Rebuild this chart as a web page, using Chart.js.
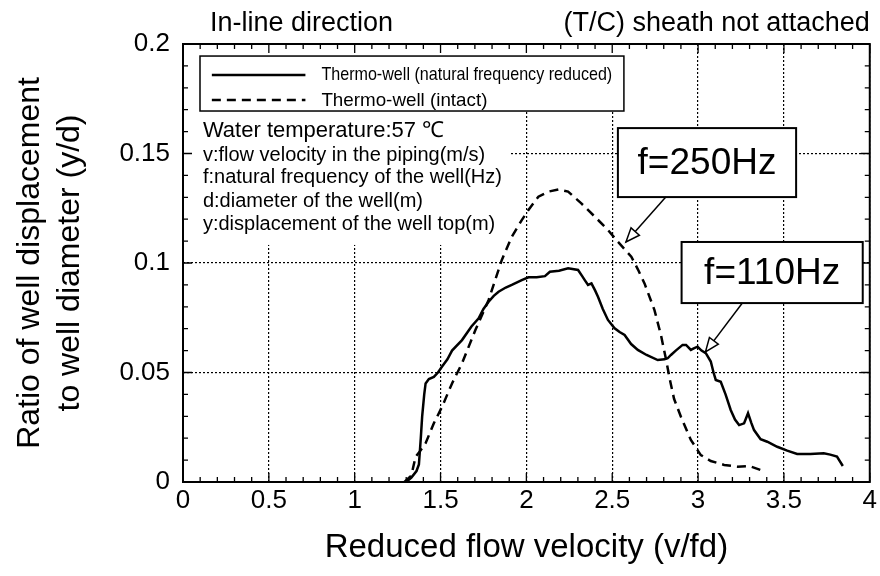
<!DOCTYPE html>
<html><head><meta charset="utf-8">
<script src="https://cdn.jsdelivr.net/npm/chart.js@4/dist/chart.umd.min.js"></script>
<style>html,body{margin:0;padding:0;background:#fff}</style>
</head><body>
<canvas id="c" width="880" height="576"></canvas>
<script>
// ---- data ----
const reducedX = [1.30,1.33,1.36,1.374,1.385,1.393,1.405,1.413,1.432,1.461,1.485,1.509,1.54,1.567,1.625,1.68,1.722,1.75,1.78,1.81,1.838,1.88,1.915,1.973,2.012,2.06,2.108,2.137,2.19,2.243,2.301,2.325,2.34,2.359,2.379,2.40,2.417,2.445,2.475,2.514,2.543,2.572,2.61,2.649,2.70,2.765,2.804,2.823,2.842,2.87,2.91,2.93,2.958,2.975,2.997,3.02,3.045,3.074,3.09,3.103,3.132,3.16,3.19,3.215,3.239,3.268,3.291,3.31,3.326,3.364,3.403,3.461,3.519,3.577,3.654,3.732,3.77,3.809,3.843];
const reducedY = [0.000,0.002,0.005,0.008,0.020,0.030,0.040,0.045,0.047,0.048,0.050,0.0527,0.056,0.060,0.0648,0.071,0.0747,0.079,0.0823,0.085,0.0869,0.0888,0.090,0.0922,0.0935,0.0935,0.094,0.096,0.0965,0.0976,0.0968,0.094,0.0922,0.090,0.0907,0.0875,0.0846,0.079,0.074,0.0702,0.0685,0.0671,0.063,0.0603,0.058,0.0557,0.056,0.0565,0.058,0.060,0.0626,0.0626,0.0603,0.061,0.0618,0.060,0.0588,0.055,0.050,0.0466,0.0458,0.040,0.0329,0.0285,0.026,0.0268,0.0314,0.027,0.0237,0.0195,0.0184,0.0161,0.0143,0.0128,0.0128,0.0131,0.0125,0.0116,0.0073];
const intactX = [1.29,1.33,1.355,1.38,1.413,1.461,1.509,1.567,1.625,1.703,1.78,1.857,1.915,1.973,2.012,2.07,2.128,2.186,2.243,2.32,2.398,2.475,2.533,2.611,2.65,2.688,2.746,2.784,2.814,2.835,2.86,2.90,2.958,3.016,3.074,3.152,3.229,3.297,3.364];
const intactY = [0.000,0.003,0.0116,0.014,0.0177,0.0268,0.0344,0.045,0.0542,0.0694,0.0831,0.1014,0.112,0.1196,0.1242,0.1303,0.1326,0.1336,0.1326,0.1272,0.1212,0.1151,0.1097,0.1029,0.097,0.0907,0.0785,0.067,0.0557,0.047,0.038,0.0298,0.0192,0.0123,0.0096,0.0078,0.007,0.0073,0.0055];
const seriesNames = ['Thermo-well (natural frequency reduced)','Thermo-well (intact)'];
const xTickValues = [0,0.5,1,1.5,2,2.5,3,3.5,4];
const xTickLabels = ['0','0.5','1','1.5','2','2.5','3','3.5','4'];
const yTickValues = [0,0.05,0.1,0.15,0.2];
const yTickLabels = ['0','0.05','0.1','0.15','0.2'];
const xTitle = 'Reduced flow velocity (v/fd)';
const yTitle = ['Ratio of well displacement','to well diameter (y/d)'];
const titleLeft = 'In-line direction';
const titleRight = '(T/C) sheath not attached';
const noteLines = ['Water temperature:57 \u2103','v:flow velocity in the piping(m/s)','f:natural frequency of the well(Hz)','d:diameter of the well(m)','y:displacement of the well top(m)'];
const labelA = 'f=250Hz';
const labelB = 'f=110Hz';

const FONT = '"Liberation Sans", Arial, Helvetica, sans-serif';
const toPts = (xs, ys) => xs.map((x, i) => ({x, y: ys[i]}));

function arrow(ctx, x1, y1, x2, y2) {
  ctx.beginPath(); ctx.moveTo(x1, y1); ctx.lineTo(x2, y2); ctx.stroke();
  const a = Math.atan2(y2 - y1, x2 - x1), L = 15, w = 0.38;
  ctx.beginPath();
  ctx.moveTo(x2, y2);
  ctx.lineTo(x2 - L * Math.cos(a - w), y2 - L * Math.sin(a - w));
  ctx.lineTo(x2 - L * Math.cos(a + w), y2 - L * Math.sin(a + w));
  ctx.closePath();
  ctx.fillStyle = '#fff'; ctx.fill(); ctx.stroke();
}

const decor = {
  id: 'decor',
  beforeDatasetsDraw(chart) {
    const {ctx, chartArea: ca} = chart;
    const X = v => chart.scales.x.getPixelForValue(v), Y = v => chart.scales.y.getPixelForValue(v);
    ctx.save();
    ctx.fillStyle = '#fff';
    // regions where the grid is hidden behind the legend and the notes
    ctx.fillRect(ca.left + 1, ca.top + 1, X(2.568) - ca.left, Y(0.1694) - ca.top);
    ctx.fillRect(ca.left + 1, ca.top + 1, X(1.955) - ca.left, Y(0.1518) - ca.top);
    ctx.fillRect(ca.left + 1, ca.top + 1, X(1.90) - ca.left, Y(0.1087) - ca.top);
    ctx.restore();
  },
  afterDraw(chart) {
    const {ctx, chartArea: ca} = chart;
    const X = v => chart.scales.x.getPixelForValue(v), Y = v => chart.scales.y.getPixelForValue(v);
    ctx.save();
    ctx.strokeStyle = '#000'; ctx.fillStyle = '#000';
    // frame
    ctx.lineWidth = 2;
    ctx.strokeRect(ca.left, ca.top, ca.right - ca.left, ca.bottom - ca.top);
    // inward ticks on all sides
    ctx.lineWidth = 1.3;
    ctx.beginPath();
    for (let i = 0; i <= 40; i++) {
      const px = X(i / 10), L = i % 5 === 0 ? 9 : 5;
      ctx.moveTo(px, ca.bottom); ctx.lineTo(px, ca.bottom - L);
      ctx.moveTo(px, ca.top); ctx.lineTo(px, ca.top + L);
    }
    for (let i = 0; i <= 20; i++) {
      const py = Y(i / 100), L = i % 5 === 0 ? 9 : 5;
      ctx.moveTo(ca.left, py); ctx.lineTo(ca.left + L, py);
      ctx.moveTo(ca.right, py); ctx.lineTo(ca.right - L, py);
    }
    ctx.stroke();
    // titles above the frame
    ctx.font = '27px ' + FONT; ctx.textBaseline = 'alphabetic';
    ctx.textAlign = 'left'; ctx.fillText(titleLeft, 210, 31);
    ctx.textAlign = 'right'; ctx.fillText(titleRight, ca.right, 31);
    // legend box
    const lx1 = X(0.099), ly1 = Y(0.1945), lx2 = X(2.568), ly2 = Y(0.1694);
    ctx.lineWidth = 1.5;
    ctx.strokeRect(lx1, ly1, lx2 - lx1, ly2 - ly1);
    const s1 = Y(0.1858), s2 = Y(0.1744);
    ctx.lineWidth = 2.5;
    ctx.beginPath(); ctx.moveTo(X(0.168), s1); ctx.lineTo(X(0.713), s1); ctx.stroke();
    ctx.setLineDash([9, 6]);
    ctx.beginPath(); ctx.moveTo(X(0.168), s2); ctx.lineTo(X(0.713), s2); ctx.stroke();
    ctx.setLineDash([]);
    ctx.font = '19px ' + FONT; ctx.textAlign = 'left'; ctx.textBaseline = 'middle';
    ctx.fillText(seriesNames[0], X(0.806), s1, X(2.50) - X(0.806));
    ctx.fillText(seriesNames[1], X(0.806), s2 + 1, 166);
    // notes
    ctx.textBaseline = 'alphabetic';
    ctx.font = '22px ' + FONT;
    ctx.fillText(noteLines[0], X(0.116), Y(0.1575));
    ctx.font = '20px ' + FONT;
    const base = [0.1466, 0.1365, 0.1256, 0.1151];
    for (let i = 1; i < noteLines.length; i++) ctx.fillText(noteLines[i], X(0.116), Y(base[i - 1]));
    // annotation boxes
    ctx.lineWidth = 2;
    const boxes = [
      {t: labelA, x1: 2.533, x2: 3.571, y1: 0.1616, y2: 0.1301, ax: 2.812, ay: 0.1301, tx: 2.580, ty: 0.1096},
      {t: labelB, x1: 2.904, x2: 3.959, y1: 0.1096, y2: 0.0817, ax: 3.258, ay: 0.0817, tx: 3.043, ty: 0.0594}
    ];
    ctx.font = '37px ' + FONT; ctx.textAlign = 'center'; ctx.textBaseline = 'middle';
    for (const b of boxes) {
      const bx = X(b.x1), by = Y(b.y1), bw = X(b.x2) - bx, bh = Y(b.y2) - by;
      ctx.fillStyle = '#fff'; ctx.fillRect(bx, by, bw, bh);
      ctx.strokeRect(bx, by, bw, bh);
      ctx.fillStyle = '#000';
      ctx.fillText(b.t, bx + bw / 2, by + bh / 2 + 1);
      ctx.lineWidth = 1.5;
      arrow(ctx, X(b.ax), Y(b.ay), X(b.tx), Y(b.ty));
      ctx.lineWidth = 2;
    }
    ctx.restore();
  }
};

new Chart(document.getElementById('c'), {
  type: 'line',
  data: {
    datasets: [
      {label: seriesNames[0], data: toPts(reducedX, reducedY), borderColor: '#000', borderWidth: 2.5, pointRadius: 0, tension: 0, fill: false},
      {label: seriesNames[1], data: toPts(intactX, intactY), borderColor: '#000', borderWidth: 2.5, borderDash: [9, 6], pointRadius: 0, tension: 0, fill: false}
    ]
  },
  options: {
    responsive: false, animation: false, devicePixelRatio: 1,
    layout: {padding: {top: 44, right: 7, left: 0, bottom: 0}},
    plugins: {legend: {display: false}, tooltip: {enabled: false}},
    scales: {
      x: {
        type: 'linear', min: 0, max: 4,
        afterBuildTicks: s => { s.ticks = xTickValues.map(v => ({value: v})); },
        afterFit: s => { s.height = 94; },
        ticks: {callback: (v, i) => xTickLabels[i], color: '#000', font: {size: 26, family: FONT}, padding: 3, maxRotation: 0, autoSkip: false},
        grid: {color: '#000', lineWidth: 1.2, drawTicks: false},
        border: {display: false, dash: [2, 2]},
        title: {display: true, text: xTitle, color: '#000', font: {size: 33, family: FONT, lineHeight: 1.2}, padding: {top: 0, bottom: 8}}
      },
      y: {
        type: 'linear', min: 0, max: 0.2,
        afterBuildTicks: s => { s.ticks = yTickValues.map(v => ({value: v})); },
        afterFit: s => { s.width = 183; },
        ticks: {callback: (v, i) => yTickLabels[i], color: '#000', font: {size: 26, family: FONT}, padding: 13, autoSkip: false},
        grid: {color: '#000', lineWidth: 1.2, drawTicks: false},
        border: {display: false, dash: [2, 2]},
        title: {display: true, text: yTitle, color: '#000', font: {size: 32, family: FONT, lineHeight: 1.25}, padding: {top: 10, bottom: 0}}
      }
    }
  },
  plugins: [decor]
});
</script>
</body></html>
